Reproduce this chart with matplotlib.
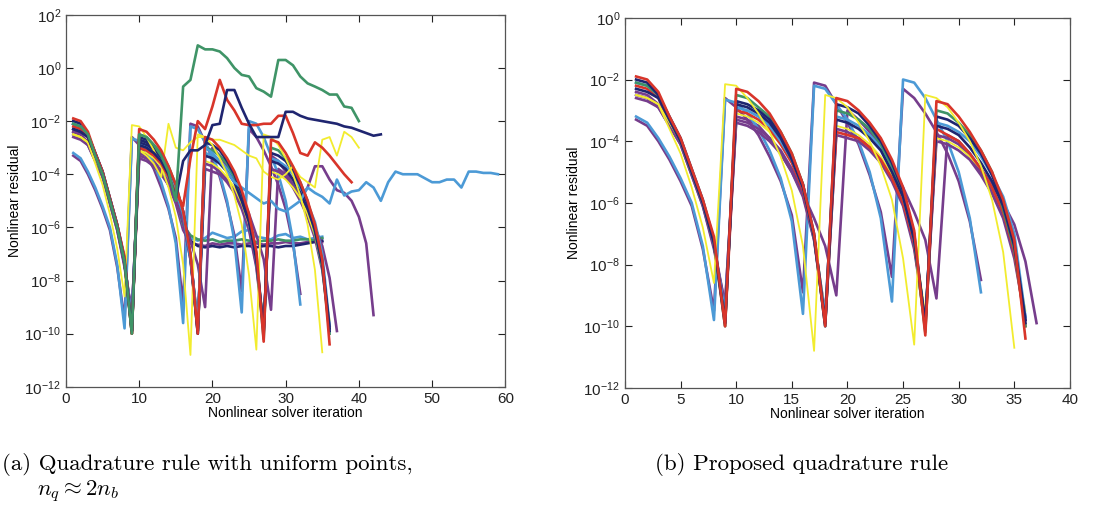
import numpy as np
import matplotlib
matplotlib.use('Agg')
import matplotlib.pyplot as plt
from matplotlib.ticker import NullLocator, FixedLocator

plt.rcParams['font.family'] = ['Liberation Sans', 'DejaVu Sans']
plt.rcParams['mathtext.fontset'] = 'cm'

## colours (MATLAB-ish) ##
c_red = '#d8352a'
c_navy = '#1f2570'
c_green = '#3f9467'
c_yellow = '#f2ec2e'
c_blue = '#4c9ad6'
c_purple = '#763d8c'

## residual exponents (log10), iteration starts at 1 ##
# right panel: proposed quadrature rule
r_red = [-1.9, -2.0, -2.4, -3.2, -3.9, -4.9, -5.9, -7.1, -10.0,
         -2.3, -2.4, -2.7, -3.1, -3.7, -4.4, -5.4, -7.0, -10.0,
         -2.6, -2.7, -3.0, -3.4, -3.9, -4.6, -5.5, -6.9, -10.3,
         -2.7, -2.8, -3.2, -3.7, -4.3, -5.0, -5.9, -7.2, -10.4]
r_navy = [-2.0, -2.1, -2.5, -3.2, -3.9, -4.9, -5.9, -7.2, -9.9,
          -2.7, -2.8, -3.0, -3.3, -3.8, -4.5, -5.4, -7.0, -9.9,
          -2.8, -2.9, -3.1, -3.5, -4.0, -4.7, -5.6, -7.0, -10.0,
          -3.2, -3.3, -3.5, -3.9, -4.4, -5.1, -6.0, -7.3, -9.8]
r_navy2 = [-2.3, -2.4, -2.6, -3.3, -4.0, -5.0, -6.0, -7.3, -9.9,
           -2.8, -2.9, -3.1, -3.4, -3.9, -4.6, -5.5, -7.1, -10.0,
           -3.3, -3.4, -3.6, -3.9, -4.3, -5.0, -5.8, -7.2, -9.9,
           -3.5, -3.6, -3.8, -4.2, -4.7, -5.3, -6.1, -7.4, -9.9]
r_green = [-2.1, -2.2, -2.5, -3.3, -4.0, -5.0, -6.0, -7.3, -10.0,
           -2.5, -2.6, -2.9, -3.2, -3.7, -4.4, -5.4, -7.1, -10.0,
           -3.0, -3.1, -3.3, -3.6, -4.1, -4.8, -5.7, -7.2, -10.2,
           -3.0, -3.1, -3.4, -3.8, -4.3, -5.0, -6.2, -7.5, -10.0]
r_blue = [-2.1, -2.2, -2.5, -3.3, -4.0, -5.0, -6.0, -7.3, -9.6,
          -2.9, -3.0, -3.2, -3.5, -4.0, -4.6, -5.5, -7.1, -9.7,
          -3.2, -3.3, -3.5, -3.8, -4.2, -4.9, -5.8, -7.2, -9.9,
          -3.4, -3.5, -3.7, -4.0, -4.5, -5.1, -5.8, -7.0, -9.7]
r_purple1 = [-2.4, -2.5, -2.8, -3.4, -4.0, -5.0, -6.0, -7.4, -9.3,
             -3.3, -3.4, -3.6, -3.9, -4.3, -4.9, -5.7, -7.2, -9.6,
             -3.6, -3.7, -3.9, -4.2, -4.6, -5.2, -6.0, -7.4, -9.8,
             -3.8, -3.9, -4.1, -4.5, -5.0, -5.6, -6.4, -7.6, -9.7]
r_yellow1 = [-2.5, -2.6, -2.8, -3.4, -4.0, -5.0, -6.0, -7.3, -9.8,
             -3.1, -3.2, -3.4, -3.7, -4.1, -4.7, -5.5, -7.0, -9.6,
             -3.5, -3.6, -3.8, -4.1, -4.5, -5.1, -5.9, -7.2, -9.6,
             -3.9, -4.0, -4.2, -4.5, -4.9, -5.5, -6.3, -7.5, -9.5]
r_purple2 = [-2.6, -2.7, -2.9, -3.5, -4.1, -5.1, -6.1, -7.4, -9.5,
             -3.4, -3.5, -3.7, -4.0, -4.4, -5.0, -5.8, -7.2, -9.9,
             -3.8, -3.9, -4.0, -4.3, -4.7, -5.3, -6.1, -7.5, -9.9,
             -4.0, -4.1, -4.3, -4.6, -5.1, -5.7, -6.5, -7.8, -9.8]
r_red2 = [-2.2, -2.3, -2.6, -3.3, -4.0, -5.0, -6.0, -7.3, -10.0,
          -3.0, -3.1, -3.3, -3.6, -4.1, -4.7, -5.6, -7.1, -9.9,
          -3.7, -3.8, -3.9, -4.2, -4.6, -5.2, -6.0, -7.3, -10.1,
          -3.6, -3.8, -4.0, -4.4, -4.9, -5.5, -6.3, -7.6, -10.0]
r_yellow_fast = [-2.5, -2.6, -2.8, -3.6, -4.4, -5.5, -6.8, -8.6,
                 -2.15, -2.2, -2.6, -3.1, -3.7, -4.5, -5.6, -7.4, -10.8,
                 -2.5, -2.6, -2.9, -3.4, -4.0, -4.8, -5.9, -7.8, -10.6,
                 -2.5, -2.6, -2.9, -3.4, -4.0, -4.8, -5.9, -7.6, -10.7]
r_blue_fast = [-3.2, -3.4, -3.9, -4.5, -5.2, -6.0, -7.4, -9.8,
               -2.65, -2.75, -3.1, -3.6, -4.3, -5.2, -6.6, -9.6,
               -2.2, -2.3, -2.8, -3.3, -4.0, -5.0, -6.5, -9.2,
               -2.0, -2.1, -2.6, -3.3, -4.0, -5.0, -6.5, -8.9]
r_purple_fast = [-3.3, -3.5, -4.0, -4.6, -5.3, -6.1, -7.5, -9.5,
                 -2.6, -2.9, -3.3, -3.8, -4.5, -5.3, -6.4, -8.9,
                 -2.1, -2.2, -2.8, -3.4, -4.1, -5.1, -6.3, -8.4,
                 -2.3, -2.6, -3.1, -3.7, -4.4, -5.3, -6.6, -8.5]
r_purple_slow = [-2.5, -2.6, -2.9, -3.5, -4.1, -5.1, -6.1, -7.5, -9.3,
                 -3.2, -3.3, -3.5, -3.9, -4.4, -5.0, -5.7, -6.5, -7.4, -9.0,
                 -3.0, -3.3, -3.7, -4.2, -4.8, -5.5, -6.3, -7.2, -9.1,
                 -3.8, -4.0, -4.4, -4.9, -5.4, -6.0, -6.7, -7.9, -9.9]

# left panel: uniform points, some runs stagnate or diverge
l_green_div = [-2.1, -2.2, -2.5, -3.3, -4.0, -5.0, -6.0, -7.3, -10.0,
               -2.5, -2.6, -2.9, -3.3, -3.9, -5.0,
               -0.7, -0.45, 0.85, 0.7, 0.7, 0.62, 0.37, 0.0, -0.26, -0.32,
               -0.76, -0.89, -1.08, 0.3, 0.3, 0.1, -0.32, -0.58, -0.7, -0.83,
               -1.0, -1.0, -1.45, -1.5, -2.0]
l_red_div = [-2.2, -2.3, -2.6, -3.3, -4.0, -5.0, -6.0, -7.3, -10.0,
             -3.0, -3.1, -3.3, -3.6, -4.1, -4.7, -5.2,
             -3.4, -2.0, -2.3, -1.45, -0.45, -1.2, -1.6, -2.1, -2.15, -2.15,
             -2.1, -2.1, -1.8, -1.8, -2.45, -3.2, -3.3, -2.8, -3.0, -3.3,
             -3.65, -4.0, -4.3]
l_navy_div = [-2.3, -2.4, -2.6, -3.3, -4.0, -5.0, -6.0, -7.3, -9.9,
              -2.9, -3.0, -3.2, -3.5, -4.0, -4.9,
              -3.5, -3.1, -3.1, -2.9, -2.15, -2.1, -0.83, -0.83, -1.5, -2.1,
              -2.6, -2.6, -2.6, -2.6, -1.65, -1.65, -1.8, -1.9, -1.95, -2.0,
              -2.05, -2.1, -2.2, -2.25, -2.35, -2.45, -2.55, -2.5]
l_yellow_div = [-2.5, -2.6, -2.8, -3.4, -4.0, -5.0, -6.0, -7.3, -9.8,
                -3.1, -3.3, -3.6, -4.1,
                -2.1, -3.0, -3.1, -2.8, -2.6, -2.6, -2.7, -2.7, -2.8, -2.9,
                -3.1, -3.3, -3.4, -3.9, -4.1, -4.2, -4.0, -3.7, -4.1, -4.3,
                -4.5, -2.7, -2.6, -3.3, -2.4, -2.6, -3.0]
l_blue_long = [-2.1, -2.2, -2.5, -3.3, -4.0, -5.0, -6.0, -7.3, -9.6,
               -2.9, -3.0, -3.2, -3.5, -4.0, -4.6, -5.5, -7.1, -9.7,
               -3.0, -3.2, -3.5, -3.9, -4.3, -4.5, -4.7, -4.9, -5.1, -5.0,
               -5.3, -5.4, -5.2, -5.0, -4.5, -4.7, -4.85, -5.1, -4.2, -4.8,
               -4.65, -4.6, -4.3, -4.5, -5.0, -4.3, -3.9, -4.0, -4.0, -4.0,
               -4.15, -4.3, -4.3, -4.2, -4.2, -4.5, -3.9, -3.9, -3.95, -3.95,
               -4.0]
l_purple_div = [-2.6, -2.7, -2.9, -3.5, -4.1, -5.1, -6.1, -7.4, -9.5,
                -3.4, -3.5, -3.7, -4.0, -4.4, -5.0, -5.8, -7.2, -9.9,
                -3.8, -3.9, -4.0, -4.3, -4.7, -5.3, -6.1, -7.5, -9.9,
                -3.3, -3.5, -3.9, -4.4, -4.9, -4.5, -3.7, -3.7, -4.2, -4.6,
                -4.7, -5.0, -5.6, -6.6, -9.3]
l_plat_navy = [-2.0, -2.1, -2.5, -3.2, -3.9, -4.9, -5.9, -7.2, -9.9,
               -2.6, -2.7, -3.0, -3.4, -3.9, -4.7, -5.8,
               -6.5, -6.7, -6.75, -6.7, -6.75, -6.7, -6.75, -6.7, -6.7, -6.75,
               -6.7, -6.7, -6.75, -6.7, -6.7, -6.65, -6.6, -6.55, -6.5]
l_plat_green = [-2.1, -2.2, -2.5, -3.3, -4.0, -5.0, -6.0, -7.3, -10.0,
                -2.7, -2.8, -3.1, -3.5, -4.0, -4.8, -5.9,
                -6.3, -6.45, -6.5, -6.45, -6.55, -6.5, -6.5, -6.45, -6.5, -6.55,
                -6.5, -6.5, -6.45, -6.5, -6.5, -6.45, -6.45, -6.5, -6.4]
l_plat_blue = [-2.1, -2.2, -2.5, -3.3, -4.0, -5.0, -6.0, -7.3, -9.6,
               -3.0, -3.1, -3.3, -3.7, -4.2, -4.9, -5.9,
               -6.4, -6.5, -6.4, -6.2, -6.3, -6.4, -6.35, -6.15, -6.1, -6.35,
               -6.4, -6.45, -6.3, -6.25, -6.4, -6.35, -6.45, -6.4, -6.35]
l_plat_purple = [-2.4, -2.5, -2.8, -3.4, -4.0, -5.0, -6.0, -7.4, -9.3,
                 -3.2, -3.3, -3.5, -3.9, -4.4, -5.1, -6.1,
                 -6.6, -6.65, -6.7, -6.6, -6.65, -6.6, -6.6, -6.65, -6.6, -6.6,
                 -6.65, -6.6, -6.6, -6.55, -6.6, -6.6, -6.55, -6.5, -6.55]

right_runs = [(r_purple_slow, c_purple), (r_purple_fast, c_purple), (r_blue_fast, c_blue),
              (r_purple2, c_purple), (r_purple1, c_purple), (r_yellow1, c_yellow),
              (r_red2, c_red), (r_blue, c_blue), (r_green, c_green), (r_navy2, c_navy),
              (r_navy, c_navy), (r_yellow_fast, c_yellow), (r_red, c_red)]
left_runs = [(l_plat_purple, c_purple), (l_plat_blue, c_blue), (l_plat_green, c_green),
             (l_plat_navy, c_navy), (r_purple_slow, c_purple), (r_purple_fast, c_purple),
             (r_blue_fast, c_blue), (r_purple1, c_purple), (l_purple_div, c_purple),
             (r_yellow1, c_yellow), (r_blue, c_blue), (r_green, c_green), (r_navy2, c_navy),
             (r_navy, c_navy), (l_blue_long, c_blue), (l_yellow_div, c_yellow),
             (r_yellow_fast, c_yellow), (r_red, c_red), (l_red_div, c_red),
             (l_navy_div, c_navy), (l_green_div, c_green)]


def draw_panel(ax, runs, xmax, xticks, ytop):
    for vals, col in runs:
        it = np.arange(1, len(vals) + 1)
        lw = 1.3 if col == c_yellow else 1.9
        ax.semilogy(it, 10.0 ** np.array(vals), color=col, lw=lw)
    ax.set_xlim(0, xmax)
    ax.set_ylim(1e-12, 10.0 ** ytop)
    ax.set_xticks(xticks)
    ax.yaxis.set_major_locator(FixedLocator([10.0 ** k for k in range(-12, ytop + 1, 2)]))
    ax.yaxis.set_minor_locator(NullLocator())
    ax.tick_params(direction='in', top=True, right=True, length=5, labelsize=11,
                   colors='#222222', width=0.8)
    for s in ax.spines.values():
        s.set_color('#555555')
        s.set_linewidth(0.9)
    ax.set_xlabel('Nonlinear solver iteration', fontsize=10, labelpad=0)
    ax.set_ylabel('Nonlinear residual', fontsize=10, labelpad=2)


fig = plt.figure(figsize=(11.18, 5.11), dpi=100)
ax1 = fig.add_axes([0.059, 0.243, 0.393, 0.728])
ax2 = fig.add_axes([0.559, 0.241, 0.398, 0.724])

draw_panel(ax1, left_runs, 60, [0, 10, 20, 30, 40, 50, 60], 2)
draw_panel(ax2, right_runs, 40, [0, 5, 10, 15, 20, 25, 30, 35, 40], 0)

fig.text(0.002, 1 - 470 / 511, '(a) Quadrature rule with uniform points,',
         family='cmr10', fontsize=16.5, va='baseline')
fig.text(37 / 1118, 1 - 496 / 511, r'$n_q \approx 2n_b$', fontsize=16.5, va='baseline')
fig.text(655 / 1118, 1 - 470 / 511, '(b) Proposed quadrature rule',
         family='cmr10', fontsize=16.5, va='baseline')

fig.savefig('out.png', dpi=100)
